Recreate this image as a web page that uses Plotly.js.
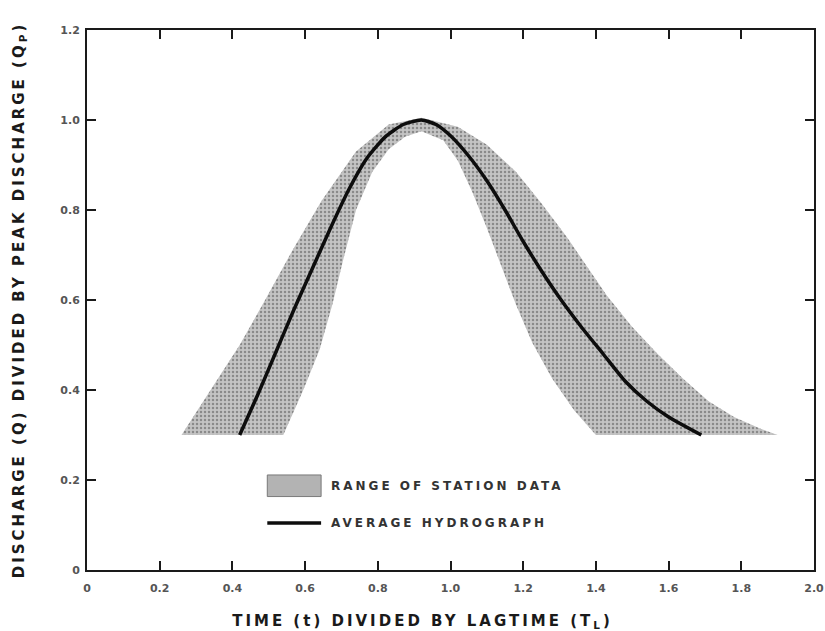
<!DOCTYPE html>
<html>
<head>
<meta charset="utf-8">
<script src="https://cdn.plot.ly/plotly-3.0.1.min.js"></script>
<style>
  html, body { margin: 0; padding: 0; background: #ffffff; }
  #chart { width: 825px; height: 631px; }
  /* wide, typewriter-like spacing on the axis titles and key labels
     (global selectors so Plotly's text measuring sees the same spacing) */
  .xtitle, .ytitle { letter-spacing: 3px; }
  .xtitle { transform: translateX(-28px); }
  .annotation-text { letter-spacing: 3px; }
</style>
</head>
<body>
<div id="chart"></div>
<script>
// Dimensionless unit hydrograph: t / TL versus Q / Qp

// Average hydrograph
const avgT = [0.42, 0.47, 0.52, 0.57, 0.62, 0.67, 0.72, 0.77, 0.82, 0.87, 0.92, 0.96, 1.00, 1.05, 1.10, 1.15, 1.20, 1.25, 1.30, 1.36, 1.42, 1.48, 1.54, 1.60, 1.69];
const avgQ = [0.30, 0.39, 0.485, 0.58, 0.67, 0.76, 0.845, 0.915, 0.962, 0.99, 1.00, 0.99, 0.965, 0.92, 0.865, 0.80, 0.73, 0.665, 0.605, 0.54, 0.48, 0.42, 0.375, 0.34, 0.30];

// Range of station data: outer edge (rising-limb left edge, over the peak, falling-limb right edge)
const outerT = [0.26, 0.34, 0.42, 0.49, 0.565, 0.645, 0.74, 0.83, 0.92, 1.02, 1.10, 1.18, 1.25, 1.32, 1.38, 1.43, 1.50, 1.57, 1.64, 1.71, 1.78, 1.85, 1.90];
const outerQ = [0.30, 0.40, 0.50, 0.60, 0.71, 0.82, 0.93, 0.99, 1.005, 0.985, 0.945, 0.885, 0.815, 0.74, 0.67, 0.61, 0.54, 0.48, 0.425, 0.375, 0.34, 0.315, 0.30];

// Range of station data: inner edge (falling-limb left edge, under the peak, rising-limb right edge)
const innerT = [1.40, 1.34, 1.28, 1.225, 1.18, 1.14, 1.10, 1.06, 1.02, 0.98, 0.92, 0.875, 0.83, 0.785, 0.74, 0.705, 0.675, 0.64, 0.595, 0.54];
const innerQ = [0.30, 0.355, 0.425, 0.505, 0.59, 0.675, 0.76, 0.84, 0.91, 0.955, 0.975, 0.963, 0.935, 0.885, 0.80, 0.69, 0.59, 0.49, 0.40, 0.30];

// Tick labels
const xTickVals = [0, 0.2, 0.4, 0.6, 0.8, 1.0, 1.2, 1.4, 1.6, 1.8, 2.0];
const xTickText = ['0', '0.2', '0.4', '0.6', '0.8', '1.0', '1.2', '1.4', '1.6', '1.8', '2.0'];
const yTickVals = [0, 0.2, 0.4, 0.6, 0.8, 1.0, 1.2];
const yTickText = ['0', '0.2', '0.4', '0.6', '0.8', '1.0', '1.2'];

// Key labels
const keyLabels = ['RANGE OF STATION DATA', 'AVERAGE HYDROGRAPH'];

const FONT = 'DejaVu Sans, Liberation Sans, sans-serif';
const INK = '#1a1a1a';
const BAND_BG = '#c4c4c4';
const BAND_FG = '#8a8a8a';

const band = {
  x: outerT.concat(innerT),
  y: outerQ.concat(innerQ),
  type: 'scatter',
  mode: 'lines',
  fill: 'toself',
  fillcolor: BAND_BG,
  fillpattern: { shape: '.', bgcolor: BAND_BG, fgcolor: BAND_FG, size: 4, solidity: 0.3 },
  line: { width: 0, color: 'rgba(0,0,0,0)' },
  showlegend: false,
  hoverinfo: 'skip'
};

const avg = {
  x: avgT,
  y: avgQ,
  type: 'scatter',
  mode: 'lines',
  line: { color: '#0d0d0d', width: 3.5, shape: 'spline', smoothing: 0.6 },
  showlegend: false
};

const axisCommon = {
  showgrid: false,
  zeroline: false,
  showline: true,
  linecolor: INK,
  linewidth: 2,
  mirror: 'ticks',
  ticks: 'inside',
  ticklen: 9,
  tickwidth: 2,
  tickcolor: INK,
  ticklabeloverflow: 'allow',
  tickfont: { family: FONT, size: 11, color: '#555', weight: 'bold' }
};

// Key drawn inside the plot area, below the hydrograph
const keyX0 = 0.248, keyX1 = 0.322, keyTextX = 0.333;
const keyShapes = [
  { type: 'rect', xref: 'paper', yref: 'paper', x0: keyX0, x1: keyX1, y0: 0.136, y1: 0.176,
    fillcolor: '#b3b3b3', line: { color: '#7a7a7a', width: 1 } },
  { type: 'line', xref: 'paper', yref: 'paper', x0: keyX0, x1: keyX1, y0: 0.087, y1: 0.087,
    line: { color: '#0d0d0d', width: 3.5 } }
];
const keyAnnotations = [
  { xref: 'paper', yref: 'paper', x: keyTextX, y: 0.156, xanchor: 'left', yanchor: 'middle', showarrow: false,
    text: '<b>' + keyLabels[0] + '</b>', font: { family: FONT, size: 12, color: '#333' } },
  { xref: 'paper', yref: 'paper', x: keyTextX, y: 0.087, xanchor: 'left', yanchor: 'middle', showarrow: false,
    text: '<b>' + keyLabels[1] + '</b>', font: { family: FONT, size: 12, color: '#333' } }
];

const layout = {
  width: 825,
  height: 631,
  margin: { l: 87, r: 11, t: 30, b: 61 },
  paper_bgcolor: '#ffffff',
  plot_bgcolor: '#ffffff',
  showlegend: false,
  shapes: keyShapes,
  annotations: keyAnnotations,
  xaxis: Object.assign({}, axisCommon, {
    range: [0, 2.0],
    tickvals: xTickVals,
    ticktext: xTickText,
    ticklabelstandoff: 7,
    title: { text: '<b>TIME (t) DIVIDED BY LAGTIME (T<sub>L</sub>)</b>', font: { family: FONT, size: 15, color: INK }, standoff: 22 }
  }),
  yaxis: Object.assign({}, axisCommon, {
    range: [0, 1.2],
    tickvals: yTickVals,
    ticktext: yTickText,
    ticklabelstandoff: 3,
    title: { text: '<b>DISCHARGE (Q) DIVIDED BY PEAK DISCHARGE (Q<sub>P</sub>)</b>', font: { family: FONT, size: 15, color: INK }, standoff: 32 }
  })
};

Plotly.newPlot('chart', [band, avg], layout, { displayModeBar: false, staticPlot: true });
</script>
</body>
</html>
